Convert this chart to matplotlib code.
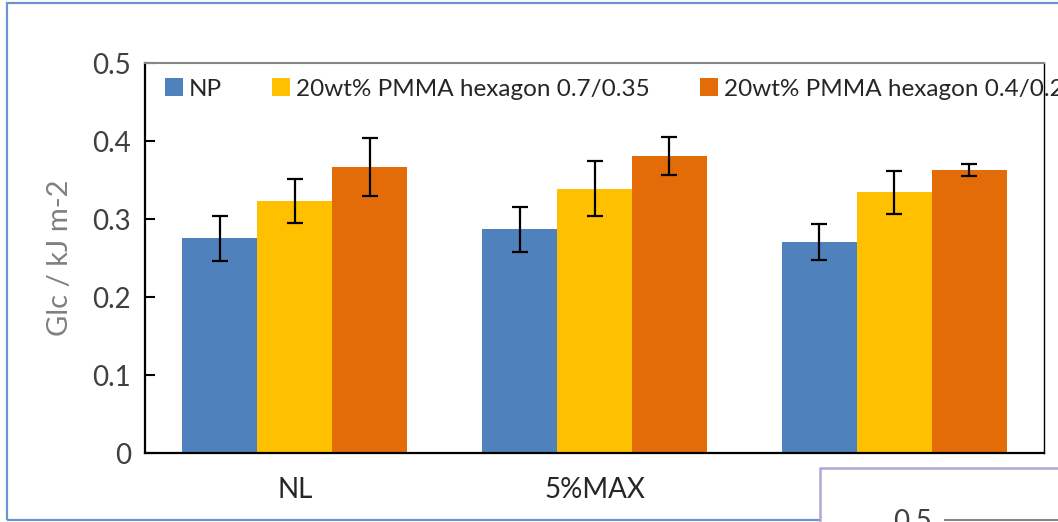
import numpy as np
import matplotlib
matplotlib.use("Agg")
import matplotlib.pyplot as plt
from matplotlib.patches import Rectangle, Patch
from matplotlib.lines import Line2D

# ==========================================
# Data
# ==========================================
categories = ["NL", "5%MAX", ""]
series_names = ["NP", "20wt% PMMA hexagon 0.7/0.35", "20wt% PMMA hexagon 0.4/0.2"]
np_vals = [0.275, 0.287, 0.270]
np_err = [0.029, 0.029, 0.023]
hex07_vals = [0.323, 0.339, 0.334]
hex07_err = [0.028, 0.035, 0.027]
hex04_vals = [0.367, 0.381, 0.363]
hex04_err = [0.037, 0.024, 0.008]
yticks = [0, 0.1, 0.2, 0.3, 0.4, 0.5]
ytick_labels = ["0", "0.1", "0.2", "0.3", "0.4", "0.5"]

colors = ["#4f81bd", "#ffc000", "#e36c09"]
plt.rcParams['font.family'] = ['Lato', 'DejaVu Sans']

fig = plt.figure(figsize=(10.58, 5.22), dpi=100)
ax = fig.add_axes([145 / 1058, 69 / 522, 899 / 1058, 390 / 522])

# ==========================================
# Bars with error bars
# ==========================================
x = np.arange(len(categories))
width = 0.25
all_vals = [np_vals, hex07_vals, hex04_vals]
all_errs = [np_err, hex07_err, hex04_err]
for i, (vals, errs) in enumerate(zip(all_vals, all_errs)):
    ax.bar(x + (i - 1) * width, vals, width, color=colors[i], zorder=2)
    ax.errorbar(x + (i - 1) * width, vals, yerr=errs, fmt='none', ecolor='black',
                elinewidth=1.6, capsize=5.5, capthick=1.6, zorder=3)

ax.set_xlim(-0.5, 2.5)
ax.set_ylim(0, 0.5)
ax.set_yticks(yticks)
ax.set_yticklabels(ytick_labels)
ax.set_xticks(x)
ax.set_xticklabels(categories)
ax.tick_params(axis='y', direction='in', length=7, width=1.5, pad=10,
               labelsize=20, labelcolor='#404040')
ax.tick_params(axis='x', length=0, pad=17, labelsize=20, labelcolor='#262626')
ax.set_ylabel("Glc / kJ m-2", fontsize=21, color='#808080', labelpad=14)

for side in ['left', 'bottom']:
    ax.spines[side].set_linewidth(1.6)
    ax.spines[side].set_color('black')
ax.spines['top'].set_color('#868686')
ax.spines['top'].set_linewidth(1.5)
ax.spines['right'].set_color('black')
ax.spines['right'].set_linewidth(1.0)

# ==========================================
# Legend along the top of the plot area
# ==========================================
handles = [Patch(facecolor=c, edgecolor='none') for c in colors]
leg = ax.legend(handles, series_names, ncol=3, loc='upper left',
                bbox_to_anchor=(0.011, 0.986), frameon=False, fontsize=17.5,
                handlelength=0.75, handleheight=0.75, handletextpad=0.25,
                columnspacing=2.05, borderaxespad=0.0, labelcolor='#262626')

# ==========================================
# Surrounding slide decorations
# ==========================================
fig.patches.append(Rectangle((7 / 1058, 2 / 522), 1.2, 517 / 522, transform=fig.transFigure,
                             fill=False, edgecolor='#6a95d0', linewidth=1.6, zorder=0))
fig.patches.append(Rectangle((820 / 1058, -0.2), 0.5, 0.2 + 54 / 522, transform=fig.transFigure,
                             facecolor='white', edgecolor='#b3a5d3', linewidth=1.8, zorder=10))
fig.text(893 / 1058, 13 / 522, "0.5", fontsize=20, color='#404040', va='top', zorder=11)
fig.lines.append(Line2D([945 / 1058, 1.0], [2 / 522, 2 / 522], transform=fig.transFigure,
                        color='#868686', linewidth=1.5, zorder=11))

fig.savefig("out.png", dpi=100)
